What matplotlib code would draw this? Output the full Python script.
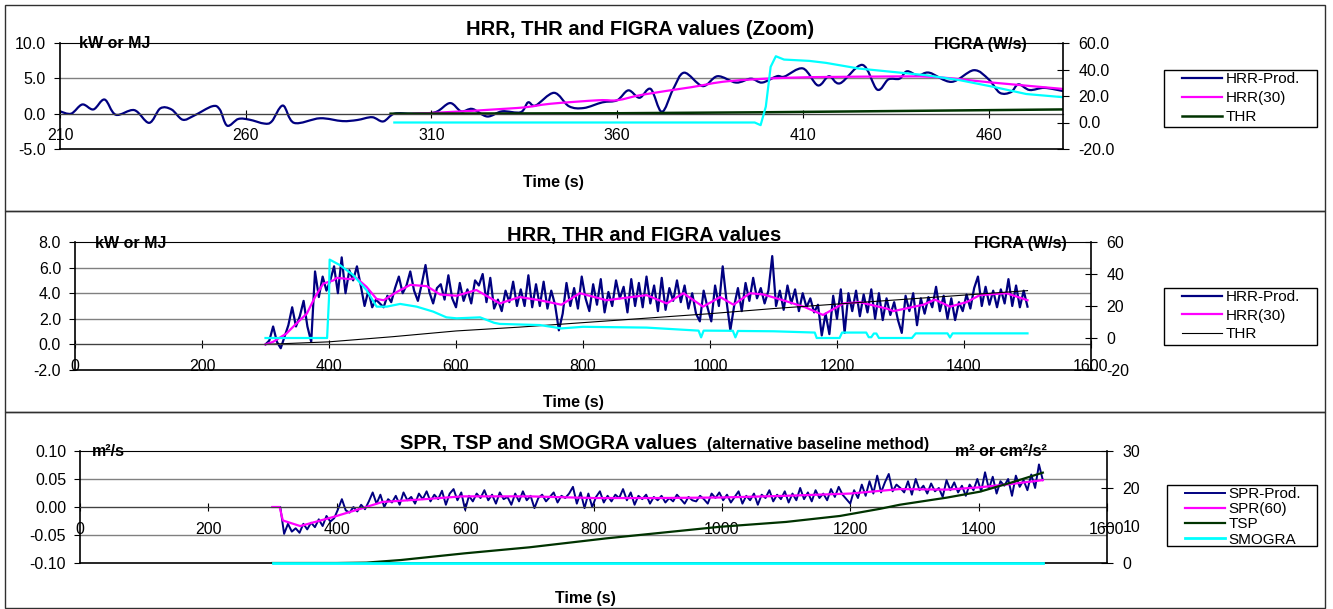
import matplotlib.pyplot as plt
import numpy as np
from matplotlib.patches import Rectangle, PathPatch
from matplotlib.path import Path
from matplotlib.lines import Line2D
from matplotlib.ticker import FormatStrFormatter

plt.rcParams['font.family'] = ['Liberation Sans', 'DejaVu Sans']

W, H = 1333, 609


def fx(px):
    return px / W


def fy(py):
    return 1 - py / H


# ---------------- panel 1 : zoom 210..480 s ----------------
zoom_hrr_t = [210, 213, 216, 219, 222, 225, 230, 234, 237, 240,
              243, 246, 251, 253, 255, 258, 261, 265, 267, 270,
              273, 280, 286, 290, 294, 297, 300, 305, 311, 315,
              318, 321, 325, 329, 334, 336, 338, 343, 347, 351,
              356, 360, 363, 366, 369, 372, 375, 378, 383, 387,
              392, 396, 399, 403, 405, 410, 414, 417, 420, 426,
              430, 433, 436, 438, 441, 444, 450, 456, 460, 463,
              466, 468, 471, 475, 480]
zoom_hrr = [0.33, 0.0, 1.3, 0.6, 2.0, -0.15, 0.5, -1.3, 0.75, 0.6,
            -0.85, -0.3, 1.05, 0.6, -1.7, -0.75, -0.85, -1.4, -1.1, 1.15,
            -1.3, -0.65, -1.05, -0.9, -0.5, -1.1, 0.0, 0.0, 0.2, 1.5,
            0.33, 0.67, -0.4, 0.33, 0.2, 1.6, 1.15, 2.95, 1.05, 0.8,
            1.6, 1.9, 3.3, 2.25, 3.5, 0.25, 3.4, 5.8, 3.9, 5.3,
            4.4, 4.95, 4.4, 5.3, 5.25, 6.4, 4.0, 5.3, 4.3, 6.9,
            3.4, 4.85, 4.95, 6.0, 5.4, 5.8, 4.5, 6.15, 4.85, 2.95,
            3.05, 4.15, 3.35, 3.65, 3.2]

zoom_hrr30_t = [305, 310, 333, 342, 355, 360, 367, 380, 390, 407, 430, 445, 461, 480]
zoom_hrr30 = [0.0, 0.1, 0.8, 1.4, 1.9, 1.9, 2.7, 3.75, 4.6, 5.1, 5.25, 5.2, 4.4, 3.5]

zoom_thr_t = [299, 360, 400, 440, 480]
zoom_thr = [0.0, 0.06, 0.2, 0.4, 0.6]

zoom_figra_t = [300, 397, 398.6, 400, 401.3, 402.7, 404.9, 411.7, 416.2, 425.1,
                434.1, 443.1, 452.1, 461.1, 470.1, 480.4]
zoom_figra = [0.0, 0.0, -2.0, 12.0, 42.0, 50.0, 47.5, 46.5, 45.0, 40.7,
              38.2, 35.7, 32.0, 27.0, 21.5, 19.0]

# ---------------- panel 2 : full HRR ----------------
hrr_t = np.arange(300, 1501, 6)
hrr = [0.0, 0.3, 1.4, 0.2, -0.3, 0.6, 1.5, 2.9, 1.4, 2.2,
       3.4, 1.4, 0.2, 5.7, 3.7, 5.3, 4.2, 5.0, 6.1, 4.0,
       6.8, 4.0, 5.8, 5.0, 6.1, 4.6, 3.0, 4.2, 2.9, 3.5,
       3.2, 2.9, 3.8, 3.3, 4.4, 5.3, 4.0, 4.6, 5.7, 4.2,
       3.4, 4.7, 6.2, 4.1, 3.2, 4.4, 4.7, 3.5, 5.4, 3.6,
       2.9, 4.8, 3.4, 4.3, 3.2, 5.0, 4.6, 5.5, 3.3, 5.2,
       2.8, 3.5, 2.6, 4.2, 3.3, 4.9, 3.0, 4.3, 3.0, 5.4,
       2.9, 4.7, 3.0, 4.9, 2.8, 4.2, 3.1, 1.1, 2.4, 4.8,
       3.0, 4.4, 2.8, 5.3, 3.6, 2.6, 4.7, 3.1, 5.1, 2.5,
       4.1, 3.0, 5.0, 3.6, 4.5, 2.5, 5.1, 3.0, 4.8, 2.9,
       5.3, 3.2, 4.6, 2.6, 5.2, 2.7, 4.4, 3.4, 5.0, 3.3,
       4.6, 2.8, 4.0, 2.4, 1.8, 4.2, 2.9, 1.8, 4.6, 3.0,
       6.1, 3.4, 1.1, 3.0, 4.4, 2.6, 4.8, 3.4, 5.2, 3.6,
       4.4, 3.2, 4.2, 6.9, 3.0, 4.2, 2.7, 4.6, 3.2, 4.3,
       2.6, 4.0, 2.9, 3.6, 2.5, 3.1, 0.7, 2.4, 0.8, 3.8,
       2.0, 4.3, 0.9, 4.0, 2.6, 4.2, 2.2, 3.9, 2.5, 4.3,
       2.0, 4.0, 1.9, 3.6, 2.3, 3.3, 1.9, 0.9, 3.8, 2.6,
       4.0, 1.5, 3.6, 2.4, 3.7, 2.9, 4.5, 2.6, 3.8, 2.0,
       3.6, 1.9, 3.3, 2.6, 3.9, 2.8, 4.4, 5.3, 3.0, 4.5,
       3.1, 4.2, 2.9, 4.3, 3.2, 5.1, 3.0, 4.6, 2.9, 4.2,
       2.95]

hrr30_t = [300, 312, 333, 349, 365, 378, 391, 407, 412, 433, 443, 459, 475, 486,
           507, 528, 554, 575, 601, 632, 669, 700, 732, 766, 795, 837, 900, 932,
           958, 989, 1016, 1037, 1063, 1084, 1115, 1150, 1178, 1210, 1236, 1278,
           1289, 1336, 1354, 1378, 1404, 1425, 1467, 1500]
hrr30 = [0.0, 0.2, 0.85, 1.65, 2.4, 3.7, 4.75, 5.0, 5.2, 5.1, 5.2, 4.5, 3.55, 3.45,
         4.1, 4.65, 4.55, 3.9, 3.8, 4.25, 3.2, 3.7, 3.45, 3.1, 4.0, 3.45, 3.85, 3.2,
         4.0, 2.95, 3.7, 3.1, 4.0, 3.9, 3.45, 2.9, 2.3, 3.2, 3.3, 2.8,
         2.6, 3.1, 3.5, 2.95, 3.3, 3.85, 4.0, 3.45]

thr_t = [300, 400, 500, 600, 700, 800, 900, 1000, 1100, 1200, 1300, 1400, 1500]
thr = [0.0, 0.2, 0.6, 1.05, 1.35, 1.7, 2.05, 2.4, 2.8, 3.15, 3.5, 3.85, 4.2]

figra_t = [300, 397, 400, 401, 417, 438, 459, 475, 491, 512,
           538, 564, 585, 601, 638, 660, 669, 732, 766, 800,
           900, 982, 986, 990, 994, 1036, 1040, 1044, 1100, 1165,
           1168, 1204, 1208, 1246, 1250, 1254, 1258, 1262, 1266, 1270,
           1318, 1324, 1374, 1378, 1382, 1500]
figra = [0, 0, 25, 49, 45.6, 39.4, 30, 19.6, 19.6, 21.3,
         19.6, 16.5, 12.9, 12.3, 12.9, 9.5, 8.8, 8.1, 6.0, 7.0,
         6.5, 4.6, 0.4, 4.6, 4.6, 4.5, 0.4, 4.4, 4.2, 3.4,
         0, 0, 3.4, 3.4, 0.5, 0.5, 2.8, 2.8, 0, 0,
         0, 2.9, 2.9, 0.3, 2.9, 2.9]

# ---------------- panel 3 : smoke ----------------
spr_t = np.arange(300, 1501, 6)
spr = [0.0, 0.0, 0.0, -0.048, -0.030, -0.044, -0.038, -0.046, -0.030, -0.040,
       -0.028, -0.036, -0.022, -0.034, -0.016, -0.026, -0.020, -0.004, 0.014, -0.006,
       -0.010, 0.000, -0.008, 0.004, -0.004, 0.010, 0.026, 0.006, 0.022, 0.000,
       0.014, 0.008, 0.020, 0.004, 0.026, 0.012, 0.018, 0.006, 0.024, 0.014,
       0.028, 0.010, 0.022, 0.014, 0.029, 0.004, 0.024, 0.032, 0.012, 0.026,
       -0.005, 0.020, 0.010, 0.024, 0.016, 0.030, 0.012, 0.022, 0.006, 0.026,
       0.014, 0.018, 0.004, 0.024, 0.010, 0.028, 0.012, 0.020, -0.002, 0.016,
       0.022, 0.010, 0.018, 0.026, 0.008, 0.020, 0.016, 0.024, 0.036, 0.006,
       0.026, -0.002, 0.024, 0.000, 0.018, 0.028, 0.008, 0.020, 0.010, 0.022,
       0.016, 0.032, 0.012, 0.026, 0.004, 0.020, 0.014, 0.022, 0.006, 0.018,
       0.012, 0.020, 0.008, 0.016, 0.010, 0.022, 0.014, 0.006, 0.018, 0.012,
       0.010, 0.020, 0.014, 0.006, 0.024, 0.016, 0.026, 0.012, 0.022, 0.008,
       0.018, 0.028, 0.006, 0.020, 0.012, 0.024, 0.004, 0.022, 0.016, 0.030,
       0.010, 0.022, 0.014, 0.028, 0.008, 0.024, 0.012, 0.034, 0.014, 0.026,
       0.010, 0.030, 0.016, 0.024, 0.012, 0.032, 0.018, 0.036, 0.022, 0.014,
       0.006, 0.030, 0.016, 0.040, 0.020, 0.046, 0.024, 0.056, 0.026, 0.044,
       0.059, 0.028, 0.040, 0.034, 0.026, 0.046, 0.022, 0.050, 0.030, 0.038,
       0.024, 0.042, 0.028, 0.034, 0.018, 0.048, 0.030, 0.044, 0.026, 0.038,
       0.020, 0.040, 0.030, 0.050, 0.028, 0.062, 0.032, 0.054, 0.024, 0.046,
       0.038, 0.050, 0.020, 0.056, 0.036, 0.048, 0.030, 0.058, 0.034, 0.076,
       0.048]

spr60_t = [300, 311, 316, 343, 394, 446, 471, 525, 596, 700, 800, 900, 1000,
           1100, 1200, 1277, 1350, 1400, 1450, 1500]
spr60 = [0.0, 0.0, -0.024, -0.034, -0.018, 0.0, 0.009, 0.013, 0.019, 0.019,
         0.016, 0.016, 0.017, 0.020, 0.024, 0.032, 0.031, 0.035, 0.041, 0.048]

tsp_t = [300, 400, 446, 500, 561, 600, 700, 820, 900, 997, 1100, 1184, 1246,
         1277, 1350, 1402, 1450, 1500]
tsp = [0.0, 0.0, 0.1, 0.8, 1.9, 2.6, 4.2, 6.6, 8.0, 9.7, 11.0, 12.6, 14.5,
       15.6, 17.5, 19.1, 21.5, 24.2]

smogra_t = [300, 1500]
smogra = [0.0, 0.0]

NAVY, MAG, CYAN, DKGREEN = '#000080', '#FF00FF', '#00FFFF', '#003300'
TICK_FS, LBL_FS, TITLE_FS, LEG_FS = 11.5, 11.5, 14.5, 11

fig = plt.figure(figsize=(W / 100, H / 100), dpi=100)

# outer frames of the three charts
for top, bot in [(5, 211), (211, 412), (412, 608)]:
    fig.add_artist(Rectangle((fx(5), fy(bot)), fx(1325) - fx(5), fy(top) - fy(bot),
                             fill=False, ec='#303030', lw=1.0,
                             transform=fig.transFigure))


def make_axes(box, xlim, xticks, yticks, y2ticks, yfmt, y2fmt):
    l, t, r, b = box
    ax = fig.add_axes([fx(l), fy(b), (r - l) / W, (b - t) / H])
    ax.set_xlim(xlim)
    ax.set_ylim(yticks[0], yticks[-1])
    ax.set_xticks(xticks)
    ax.set_yticks(yticks)
    ax.yaxis.set_major_formatter(FormatStrFormatter(yfmt))
    for y in yticks[1:-1]:
        ax.axhline(y, color='#808080', lw=1.0, zorder=0.5)
    ax.axhline(yticks[0], color='black', lw=1.2, clip_on=False)
    ax.spines['bottom'].set_position(('data', 0))
    ax.spines['bottom'].set_color('#404040')
    ax.spines['right'].set_visible(False)
    ax.spines['left'].set_linewidth(1.2)
    ax.tick_params(axis='x', direction='inout', length=6, pad=7.5, labelsize=TICK_FS)
    ax.tick_params(axis='y', direction='out', length=4, pad=6, labelsize=TICK_FS)

    ax2 = ax.twinx()
    ax2.set_ylim(y2ticks[0], y2ticks[-1])
    ax2.set_yticks(y2ticks)
    ax2.yaxis.set_major_formatter(FormatStrFormatter(y2fmt))
    for s in ['left', 'top', 'bottom']:
        ax2.spines[s].set_visible(False)
    ax2.spines['right'].set_linewidth(1.2)
    ax2.tick_params(axis='y', direction='inout', length=8, pad=7, labelsize=TICK_FS)
    return ax, ax2


def smooth_line(ax, xs, ys, color, lw):
    # Excel style "smoothed line": cubic Bezier segments through the points
    p = np.column_stack([xs, ys]).astype(float)
    ext = np.vstack([p[0], p, p[-1]])
    verts, codes = [p[0]], [Path.MOVETO]
    for i in range(len(p) - 1):
        c1 = ext[i + 1] + (ext[i + 2] - ext[i]) / 6
        c2 = ext[i + 2] - (ext[i + 3] - ext[i + 1]) / 6
        verts += [c1, c2, p[i + 1]]
        codes += [Path.CURVE4] * 3
    ax.add_patch(PathPatch(Path(verts, codes), fill=False, edgecolor=color, lw=lw,
                           capstyle='round', joinstyle='round'))
    return Line2D([], [], color=color, lw=lw)


def legend(handles, labels, box, spacing):
    l, t, r, b = box
    fig.add_artist(Rectangle((fx(l), fy(b)), (r - l) / W, (b - t) / H, fill=False,
                             ec='black', lw=1.0, transform=fig.transFigure))
    fig.legend(handles, labels, loc='upper left', bbox_to_anchor=(fx(l + 18), fy(t + 2)),
               bbox_transform=fig.transFigure, frameon=False, fontsize=LEG_FS,
               handlelength=2.6, handletextpad=0.25, labelspacing=spacing,
               borderpad=0, borderaxespad=0)


def bold(x, y, s, ha='left', fs=LBL_FS, va='center'):
    fig.text(fx(x), fy(y), s, ha=ha, va=va, fontsize=fs, fontweight='bold')


# ---- panel 1
ax, ax2 = make_axes((60, 43, 1063, 149), (210, 480), [210, 260, 310, 360, 410, 460],
                    [-5, 0, 5, 10], [-20, 0, 20, 40, 60], '%.1f', '%.1f')
l1 = smooth_line(ax, zoom_hrr_t, zoom_hrr, NAVY, 1.6)
l2 = smooth_line(ax, zoom_hrr30_t, zoom_hrr30, MAG, 1.6)
l3, = ax.plot(zoom_thr_t, zoom_thr, color=DKGREEN, lw=1.8)
ax2.plot(zoom_figra_t, zoom_figra, color=CYAN, lw=1.6)
bold(640, 35, 'HRR, THR and FIGRA values (Zoom)', ha='center', fs=TITLE_FS, va='baseline')
bold(79, 44, 'kW or MJ')
bold(980, 44, 'FIGRA (W/s)', ha='center')
bold(553, 183, 'Time (s)', ha='center')
legend([l1, l2, l3], ['HRR-Prod.', 'HRR(30)', 'THR'], (1164, 70, 1317, 127), 0.33)

# ---- panel 2
ax, ax2 = make_axes((75, 242, 1091, 370), (0, 1600), list(range(0, 1601, 200)),
                    [-2, 0, 2, 4, 6, 8], [-20, 0, 20, 40, 60], '%.1f', '%d')
l1, = ax.plot(hrr_t, hrr, color=NAVY, lw=1.6)
l2, = ax.plot(hrr30_t, hrr30, color=MAG, lw=1.6)
l3, = ax.plot(thr_t, thr, color='black', lw=0.8)
ax2.plot(figra_t, figra, color=CYAN, lw=1.6)
bold(644, 241, 'HRR, THR and FIGRA values', ha='center', fs=TITLE_FS, va='baseline')
bold(95, 243, 'kW or MJ')
bold(1020, 243, 'FIGRA (W/s)', ha='center')
bold(573, 403, 'Time (s)', ha='center')
legend([l1, l2, l3], ['HRR-Prod.', 'HRR(30)', 'THR'], (1164, 288, 1317, 345), 0.3)

# ---- panel 3
ax, ax2 = make_axes((80, 451, 1107, 563), (0, 1600), list(range(0, 1601, 200)),
                    [-0.10, -0.05, 0.0, 0.05, 0.10], [0, 10, 20, 30], '%.2f', '%d')
l1, = ax.plot(spr_t, spr, color=NAVY, lw=1.4)
l2, = ax.plot(spr60_t, spr60, color=MAG, lw=1.6)
l3, = ax2.plot(tsp_t, tsp, color=DKGREEN, lw=1.6)
l4, = ax2.plot(smogra_t, smogra, color=CYAN, lw=2.0, clip_on=False)
bold(400, 449, 'SPR, TSP and SMOGRA values', fs=TITLE_FS, va='baseline')
bold(707, 449, '(alternative baseline method)', va='baseline')
bold(92, 451, 'm²/s')
bold(1001, 451, 'm² or cm²/s²', ha='center')
bold(585, 598, 'Time (s)', ha='center')
legend([l1, l2, l3, l4], ['SPR-Prod.', 'SPR(60)', 'TSP', 'SMOGRA'],
       (1167, 485, 1317, 546), 0.08)

fig.savefig('out.png', dpi=100)
